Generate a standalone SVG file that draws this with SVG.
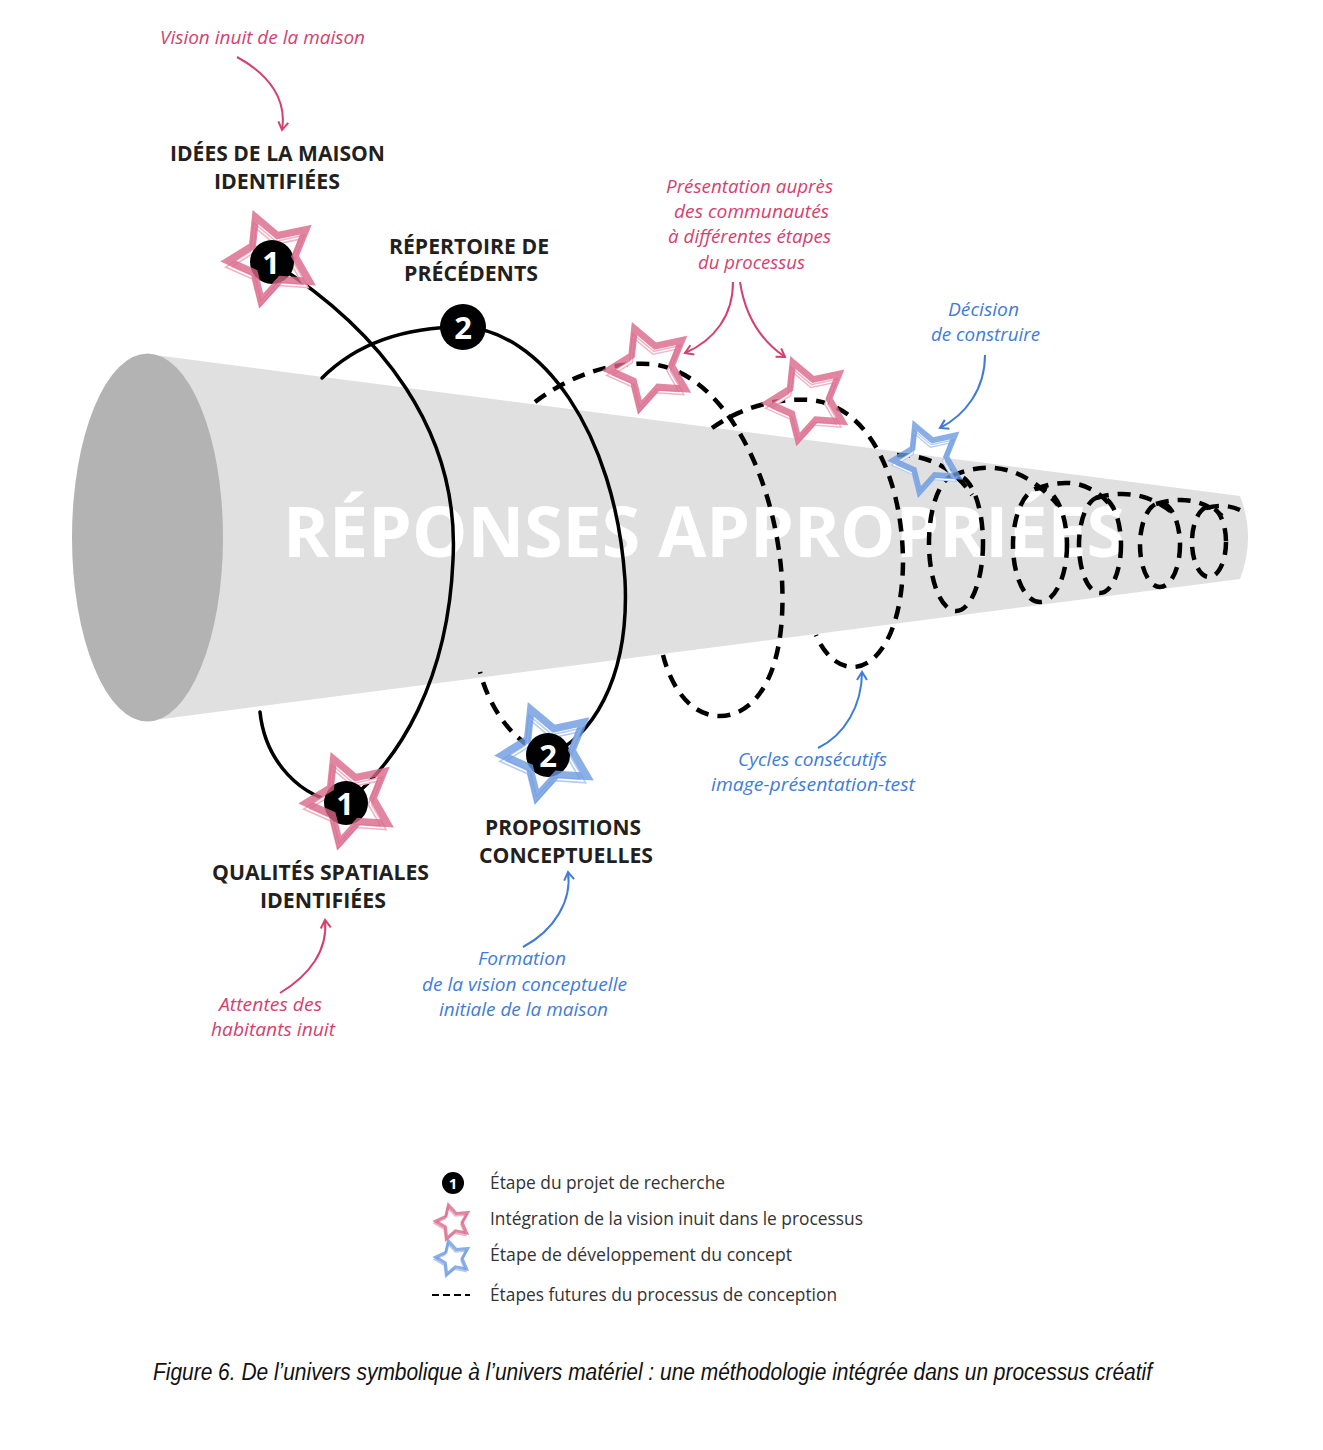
<svg xmlns="http://www.w3.org/2000/svg" width="1323" height="1450" viewBox="0 0 1323 1450">
<defs>
<style>
.pk{fill:#d4416f;font-family:"Open Sans","Noto Sans",sans-serif;font-style:italic;font-size:19px}
.bl{fill:#3f7cd8;font-family:"Open Sans","Noto Sans",sans-serif;font-style:italic;font-size:19px}
.hd{fill:#231f20;font-family:"Open Sans","Noto Sans",sans-serif;font-weight:bold;font-size:21px}
.lg{fill:#333;font-family:"Open Sans","Noto Sans",sans-serif;font-size:18px}
.dg{fill:#fff;font-family:"Open Sans","Noto Sans",sans-serif;font-weight:bold;font-size:31px;text-anchor:middle}
.solid{fill:none;stroke:#000;stroke-width:3.5;stroke-linecap:round}
.dash{fill:none;stroke:#000;stroke-width:4.5;stroke-dasharray:13 9}
.apk{fill:none;stroke:#d4416f;stroke-width:2}
.abl{fill:none;stroke:#3f7cd8;stroke-width:2}
.sp-main{fill:none;stroke:#d9668a;stroke-width:7.5;opacity:0.8}
.sp-sh{fill:none;stroke:#f0b3c5;stroke-width:5}
.sb-main{fill:none;stroke:#6d9ae0;stroke-width:7.5;opacity:0.8}
.sb-sh{fill:none;stroke:#b6cdf2;stroke-width:5}
.sh-in{fill:none;stroke:#fff;stroke-width:1.5}
</style>
<path id="star" d="M0,-46 L14.11,-19.42 L43.75,-14.21 L22.83,7.42 L27.04,37.21 L0,24 L-27.04,37.21 L-22.83,7.42 L-43.75,-14.21 L-14.11,-19.42 Z"/>
<marker id="mpk" viewBox="0 0 12 12" refX="10" refY="6" markerWidth="12" markerHeight="12" orient="auto" markerUnits="userSpaceOnUse"><path d="M2,1 L10,6 L2,11" fill="none" stroke="#d4416f" stroke-width="2"/></marker>
<marker id="mbl" viewBox="0 0 12 12" refX="10" refY="6" markerWidth="12" markerHeight="12" orient="auto" markerUnits="userSpaceOnUse"><path d="M2,1 L10,6 L2,11" fill="none" stroke="#3f7cd8" stroke-width="2"/></marker>
</defs>
<rect width="1323" height="1450" fill="#fff"/>

<g id="cone">
<path d="M147,354 L1240,496 Q1256,537 1240,579 L147,721 Z" fill="#e0e0e0"/>
<ellipse cx="147.5" cy="537.5" rx="75.5" ry="184" fill="#b3b3b3"/>
<text x="283" y="557" textLength="842" lengthAdjust="spacingAndGlyphs" fill="#fff" font-family="Open Sans, Noto Sans, sans-serif" font-weight="bold" font-size="69">RÉPONSES APPROPRIÉES</text>
</g>

<g id="connectors">
<path class="solid" d="M272,262 C380,330 460,430 453,560 C448,680 400,760 346,803"/>
<path class="solid" d="M346,803 C300,800 265,760 260,712"/>
<path class="solid" d="M322,378 C360,340 410,327 463,327"/>
<path class="solid" d="M463,327 C540,330 615,430 625,580 C630,680 590,740 548,755"/>
<path class="dash" d="M548,755 C515,745 490,710 480,672"/>
<path class="dash" d="M535,402 C575,372 615,362 650,364 C720,370 775,470 782,580 C787,680 752,716 720,716 C692,716 672,690 663,655"/>
<path class="dash" d="M712,428 C745,405 780,398 810,400 C870,405 902,480 903,560 C903,630 878,667 853,667 C835,667 822,650 816,635"/>
<path class="dash" d="M897,455 Q945,455 972,495"/>
<ellipse class="dash" cx="956" cy="543" rx="27" ry="68"/>
<path class="dash" d="M952,476 Q1010,450 1058,505"/>
<ellipse class="dash" cx="1040" cy="545" rx="27" ry="57"/>
<path class="dash" d="M1036,489 Q1085,470 1114,510"/>
<ellipse class="dash" cx="1100" cy="545" rx="21" ry="48"/>
<path class="dash" d="M1096,498 Q1140,485 1174,514"/>
<ellipse class="dash" cx="1160" cy="545" rx="20" ry="42"/>
<path class="dash" d="M1156,504 Q1195,492 1222,516"/>
<ellipse class="dash" cx="1209" cy="542" rx="17" ry="35"/>
<path class="dash" d="M1206,508 Q1225,503 1240,510"/>

<path class="apk" d="M237,57 C270,75 287,100 282,130" marker-end="url(#mpk)"/>
<path class="apk" d="M733,282 C733,315 715,340 685,353" marker-end="url(#mpk)"/>
<path class="apk" d="M740,282 C745,315 760,340 785,357" marker-end="url(#mpk)"/>
<path class="abl" d="M985,355 C985,390 965,415 940,428" marker-end="url(#mbl)"/>
<path class="abl" d="M818,748 C845,735 862,705 862,672" marker-end="url(#mbl)"/>
<path class="apk" d="M280,993 C310,975 328,950 325,920" marker-end="url(#mpk)"/>
<path class="abl" d="M523,947 C555,930 572,900 568,872" marker-end="url(#mbl)"/>
</g>

<g id="node-1-top">
<g transform="translate(272,258) rotate(-22) scale(0.96)">
<use href="#star" class="sp-sh" transform="translate(-4,5) scale(0.94)"/>
<use href="#star" class="sh-in" transform="translate(-4,5) scale(0.94)"/>
</g>
<circle cx="272" cy="262" r="22" fill="#000"/>
<use href="#star" class="sp-main" transform="translate(272,258) rotate(-22) scale(0.96)"/>
<text class="dg" x="271" y="274">1</text>
</g>

<g id="node-1-bottom">
<g transform="translate(350,800) rotate(-22) scale(0.96)">
<use href="#star" class="sp-sh" transform="translate(-4,5) scale(0.94)"/>
<use href="#star" class="sh-in" transform="translate(-4,5) scale(0.94)"/>
</g>
<circle cx="346" cy="803" r="22" fill="#000"/>
<use href="#star" class="sp-main" transform="translate(350,800) rotate(-22) scale(0.96)"/>
<text class="dg" x="345" y="815">1</text>
</g>

<g id="node-2-top">
<circle cx="463" cy="327" r="23" fill="#000"/>
<text class="dg" x="463" y="339">2</text>
</g>

<g id="node-2-bottom">
<g transform="translate(548,752) rotate(-22) scale(1)">
<use href="#star" class="sb-sh" transform="translate(-4,5) scale(0.94)"/>
<use href="#star" class="sh-in" transform="translate(-4,5) scale(0.94)"/>
</g>
<circle cx="548" cy="755" r="22" fill="#000"/>
<use href="#star" class="sb-main" transform="translate(548,752) rotate(-22) scale(1)"/>
<text class="dg" x="548" y="767">2</text>
</g>

<g id="star-3">
<g transform="translate(650,367) rotate(-22) scale(0.9)">
<use href="#star" class="sp-sh" transform="translate(-4,5) scale(0.94)"/>
<use href="#star" class="sh-in" transform="translate(-4,5) scale(0.94)"/>
<use href="#star" class="sp-main"/>
</g>
</g>
<g id="star-4">
<g transform="translate(808,400) rotate(-22) scale(0.88)">
<use href="#star" class="sp-sh" transform="translate(-4,5) scale(0.94)"/>
<use href="#star" class="sh-in" transform="translate(-4,5) scale(0.94)"/>
<use href="#star" class="sp-main"/>
</g>
</g>
<g id="star-5">
<g transform="translate(928,458) rotate(-22) scale(0.76)">
<use href="#star" class="sb-sh" transform="translate(-4,5) scale(0.94)"/>
<use href="#star" class="sh-in" transform="translate(-4,5) scale(0.94)"/>
<use href="#star" class="sb-main"/>
</g>
</g>

<g id="labels">
<text class="pk" x="160" y="44" textLength="205" lengthAdjust="spacingAndGlyphs">Vision inuit de la maison</text>
<text class="hd" x="170" y="161" textLength="215" lengthAdjust="spacingAndGlyphs">IDÉES DE LA MAISON</text>
<text class="hd" x="214" y="189" textLength="126" lengthAdjust="spacingAndGlyphs">IDENTIFIÉES</text>
<text class="hd" x="389" y="254" textLength="160" lengthAdjust="spacingAndGlyphs">RÉPERTOIRE DE</text>
<text class="hd" x="404" y="281" textLength="134" lengthAdjust="spacingAndGlyphs">PRÉCÉDENTS</text>
<text class="pk" x="666" y="193" textLength="167" lengthAdjust="spacingAndGlyphs">Présentation auprès</text>
<text class="pk" x="674" y="218" textLength="155" lengthAdjust="spacingAndGlyphs">des communautés</text>
<text class="pk" x="668" y="243" textLength="163" lengthAdjust="spacingAndGlyphs">à différentes étapes</text>
<text class="pk" x="698" y="269" textLength="107" lengthAdjust="spacingAndGlyphs">du processus</text>
<text class="bl" x="948" y="316" textLength="71" lengthAdjust="spacingAndGlyphs">Décision</text>
<text class="bl" x="931" y="341" textLength="109" lengthAdjust="spacingAndGlyphs">de construire</text>
<text class="bl" x="738" y="766" textLength="149" lengthAdjust="spacingAndGlyphs">Cycles consécutifs</text>
<text class="bl" x="711" y="791" textLength="204" lengthAdjust="spacingAndGlyphs">image-présentation-test</text>
<text class="hd" x="485" y="835" textLength="156" lengthAdjust="spacingAndGlyphs">PROPOSITIONS</text>
<text class="hd" x="479" y="863" textLength="174" lengthAdjust="spacingAndGlyphs">CONCEPTUELLES</text>
<text class="hd" x="212" y="880" textLength="217" lengthAdjust="spacingAndGlyphs">QUALITÉS SPATIALES</text>
<text class="hd" x="260" y="908" textLength="126" lengthAdjust="spacingAndGlyphs">IDENTIFIÉES</text>
<text class="pk" x="219" y="1011" textLength="103" lengthAdjust="spacingAndGlyphs">Attentes des</text>
<text class="pk" x="211" y="1036" textLength="124" lengthAdjust="spacingAndGlyphs">habitants inuit</text>
<text class="bl" x="478" y="965" textLength="88" lengthAdjust="spacingAndGlyphs">Formation</text>
<text class="bl" x="422" y="991" textLength="205" lengthAdjust="spacingAndGlyphs">de la vision conceptuelle</text>
<text class="bl" x="439" y="1016" textLength="169" lengthAdjust="spacingAndGlyphs">initiale de la maison</text>
</g>

<g id="legend">
<circle cx="453" cy="1183" r="11" fill="#000"/>
<text x="453" y="1189" fill="#fff" font-family="Open Sans, sans-serif" font-weight="bold" font-size="15" text-anchor="middle">1</text>
<text class="lg" x="490" y="1189" textLength="235" lengthAdjust="spacingAndGlyphs">Étape du projet de recherche</text>
<g transform="translate(453,1222) rotate(-15) scale(0.38)">
<use href="#star" class="sp-sh" transform="translate(-4,5)"/>
<use href="#star" class="sp-main" style="stroke-width:8"/>
</g>
<text class="lg" x="490" y="1225" textLength="373" lengthAdjust="spacingAndGlyphs">Intégration de la vision inuit dans le processus</text>
<g transform="translate(453,1258) rotate(-15) scale(0.38)">
<use href="#star" class="sb-sh" transform="translate(-4,5)"/>
<use href="#star" class="sb-main" style="stroke-width:8"/>
</g>
<text class="lg" x="490" y="1261" textLength="302" lengthAdjust="spacingAndGlyphs">Étape de développement du concept</text>
<line x1="432" y1="1295" x2="470" y2="1295" stroke="#000" stroke-width="2" stroke-dasharray="7 4"/>
<text class="lg" x="490" y="1301" textLength="347" lengthAdjust="spacingAndGlyphs">Étapes futures du processus de conception</text>
</g>

<text x="153" y="1380" textLength="999" lengthAdjust="spacingAndGlyphs" fill="#111" font-family="Liberation Sans, Arial, sans-serif" font-style="italic" font-size="23">Figure 6. De l’univers symbolique à l’univers matériel : une méthodologie intégrée dans un processus créatif</text>
</svg>
